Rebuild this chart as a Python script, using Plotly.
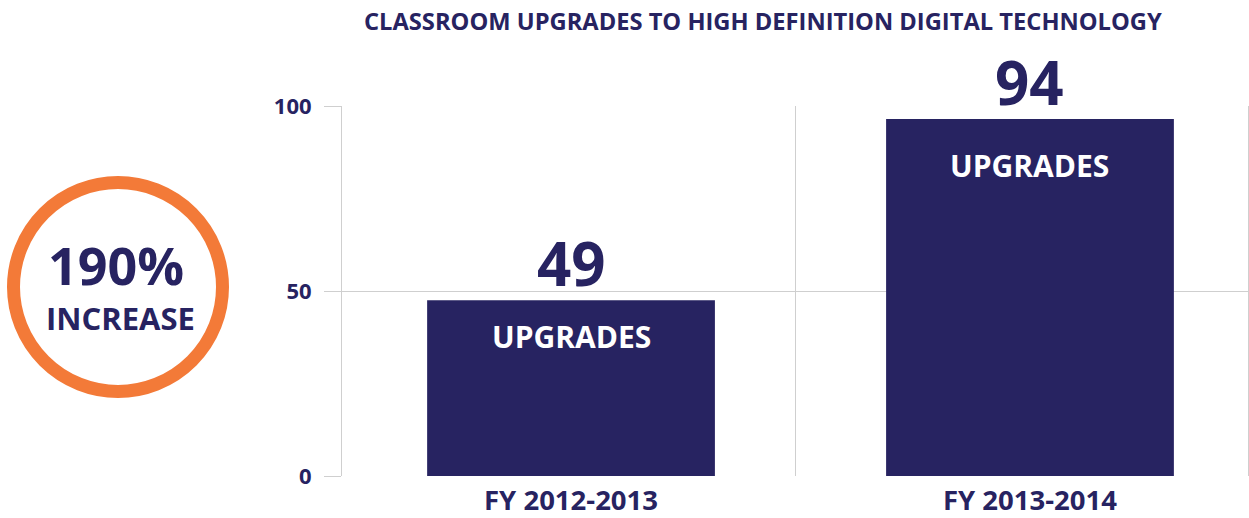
import plotly.graph_objects as go

# ---- data ----
categories = ["FY 2012-2013", "FY 2013-2014"]
bar_values = [47.5, 96.5]          # bar heights as drawn
value_labels = ["49", "94"]        # numbers printed above the bars
inner_labels = ["UPGRADES", "UPGRADES"]
y_ticks = [0, 50, 100]
title_text = "CLASSROOM UPGRADES TO HIGH DEFINITION DIGITAL TECHNOLOGY"
badge_big = "190%"
badge_small = "INCREASE"

# ---- style ----
NAVY = "#272361"
ORANGE = "#F37A38"
GRID = "#cfcfcf"
FONT = "Open Sans"
W, H = 1249, 518
ML, MR, MT, MB = 0, 1, 106, 42
PW = W - ML - MR
PH = H - MT - MB


def px_x(px):
    return (px - ML) / PW


def px_y(py):
    return (H - MB - py) / PH


x_pos = list(range(len(categories)))

fig = go.Figure()
fig.add_trace(go.Bar(
    x=x_pos, y=bar_values, width=0.627,
    marker=dict(color=NAVY, line=dict(width=0)),
    hoverinfo="skip",
))

annotations = []
inner_shifts = [-14, -24]
for xp, val, lab, inner, sh in zip(x_pos, bar_values, value_labels, inner_labels, inner_shifts):
    annotations.append(dict(
        x=xp, y=val, xref="x", yref="y", text=lab, showarrow=False,
        yanchor="bottom", yshift=-6,
        font=dict(family=FONT, size=60, color=NAVY, weight=700),
    ))
    annotations.append(dict(
        x=xp, y=val, xref="x", yref="y", text=inner, showarrow=False,
        yanchor="top", yshift=sh,
        font=dict(family=FONT, size=30, color="white", weight=700),
    ))

# title
annotations.append(dict(
    x=px_x(763), y=px_y(21), xref="paper", yref="paper", text=title_text,
    showarrow=False, xanchor="center", yanchor="middle",
    font=dict(family=FONT, size=23.7, color=NAVY, weight=700),
))
# badge
annotations.append(dict(
    x=px_x(116), y=px_y(264), xref="paper", yref="paper", text=badge_big,
    showarrow=False, xanchor="center", yanchor="middle",
    font=dict(family=FONT, size=52, color=NAVY, weight=700),
))
annotations.append(dict(
    x=px_x(120), y=px_y(318), xref="paper", yref="paper", text=badge_small,
    showarrow=False, xanchor="center", yanchor="middle",
    font=dict(family=FONT, size=31, color=NAVY, weight=700),
))

cx, cy, r = 118, 287, 104.5
shapes = [dict(
    type="circle", xref="paper", yref="paper",
    x0=px_x(cx - r), x1=px_x(cx + r), y0=px_y(cy + r), y1=px_y(cy - r),
    line=dict(color=ORANGE, width=13), fillcolor="rgba(0,0,0,0)",
)]

fig.update_layout(
    width=W, height=H,
    margin=dict(l=ML, r=MR, t=MT, b=MB, pad=0),
    paper_bgcolor="white", plot_bgcolor="white",
    showlegend=False,
    annotations=annotations,
    shapes=shapes,
    xaxis=dict(
        type="linear", domain=[px_x(342), 1], automargin=False,
        range=[-0.499, 1.475],
        tickvals=x_pos, ticktext=categories,
        showgrid=False, ticks="", showline=False, zeroline=False,
        minor=dict(tickvals=[0.488], showgrid=True, gridcolor=GRID, gridwidth=1, ticks=""),
        tickfont=dict(family=FONT, size=27.5, color=NAVY, weight=700),
        ticklabelstandoff=5,
    ),
    yaxis=dict(
        range=[0, 100], tickvals=y_ticks, ticktext=[str(t) for t in y_ticks],
        automargin=False,
        showgrid=True, gridcolor=GRID, gridwidth=1, zeroline=False,
        ticks="outside", ticklen=17, tickcolor=GRID, tickwidth=1,
        showline=True, linecolor=GRID, linewidth=1, mirror=True,
        tickfont=dict(family=FONT, size=22, color=NAVY, weight=700),
        ticklabelstandoff=8,
    ),
)

fig.write_html(
    "out.html",
    config={"displayModeBar": False},
    post_script="document.body.style.margin='0';document.body.style.overflow='hidden';",
)
